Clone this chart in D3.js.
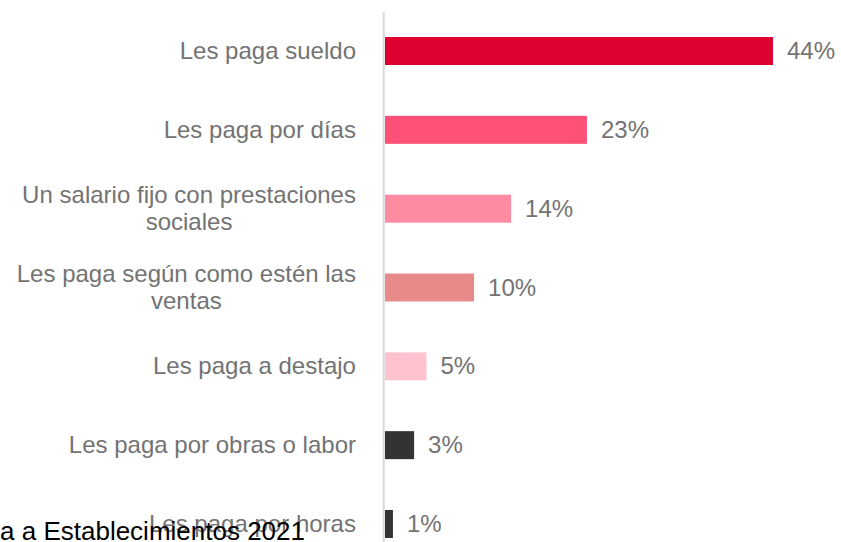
<!DOCTYPE html>
<html>
<head>
<meta charset="utf-8">
<script src="https://cdn.jsdelivr.net/npm/d3@7"></script>
<style>
  html, body { margin: 0; padding: 0; background: #fff; overflow: hidden; }
  svg { display: block; font-family: 'Liberation Sans', Arial, sans-serif; }
</style>
</head>
<body>
<div class="chart"></div>
<script>
const categories = [
  ['Les paga sueldo'],
  ['Les paga por días'],
  ['Un salario fijo con prestaciones', 'sociales'],
  ['Les paga según como estén las', 'ventas'],
  ['Les paga a destajo'],
  ['Les paga por obras o labor'],
  ['Les paga por horas']
]
const values = [44, 22.9, 14.3, 10.1, 4.7, 3.3, 0.9]
const colors = ['#df0032', '#ff5078', '#ff8ba3', '#e98a8a', '#ffc2ce', '#333333', '#333333']
const footnote = 'Fuente: Encuesta a Establecimientos 2021'

;(function init() {
  const width = 841
  const height = 542
  const labelRight = 356
  const textColor = '#737373'
  const fontSize = 23
  const stretch = 1.045

  const keys = categories.map((c) => c.join(' '))

  const xScale = d3.scaleLinear().domain([0, 44]).range([385, 773])

  const yScale = d3
    .scaleBand()
    .domain(keys)
    .range([11.6, 563.4])
    .paddingInner(0.645)
    .paddingOuter(0.3225)

  const svg = d3
    .select('.chart')
    .append('svg')
    .attr('width', width)
    .attr('height', height)

  // barras
  svg
    .selectAll('rect.bar')
    .data(values)
    .enter()
    .append('rect')
    .attr('class', 'bar')
    .attr('x', xScale(0))
    .attr('y', (d, i) => yScale(keys[i]))
    .attr('width', (d) => xScale(d) - xScale(0))
    .attr('height', yScale.bandwidth())
    .attr('fill', (d, i) => colors[i])

  // eje vertical
  svg
    .append('line')
    .attr('x1', 383.7)
    .attr('x2', 383.7)
    .attr('y1', 12)
    .attr('y2', height)
    .attr('stroke', '#d9d9d9')
    .attr('stroke-width', 2)

  // etiquetas de valores
  svg
    .selectAll('text.value')
    .data(values)
    .enter()
    .append('text')
    .attr('class', 'value')
    .attr('transform', (d) => {
      const x = xScale(d) + 14
      return `translate(${x},0) scale(${stretch},1)`
    })
    .attr('y', (d, i) => yScale(keys[i]) + yScale.bandwidth() / 2)
    .attr('dy', '0.35em')
    .style('font-size', fontSize + 'px')
    .attr('fill', textColor)
    .text((d) => d3.format('.0f')(d) + '%')

  // etiquetas de categorias
  const labelGroup = svg
    .append('g')
    .attr('transform', `translate(${labelRight},0) scale(${stretch},1)`)

  const labels = labelGroup
    .selectAll('text.label')
    .data(categories)
    .enter()
    .append('text')
    .attr('class', 'label')
    .style('font-size', fontSize + 'px')
    .attr('fill', textColor)

  labels.each(function (lines, i) {
    const text = d3.select(this)
    const cy = yScale(keys[i]) + yScale.bandwidth() / 2
    const lineHeight = 27
    if (lines.length === 1) {
      text
        .attr('text-anchor', 'end')
        .attr('x', 0)
        .attr('y', cy)
        .attr('dy', '0.35em')
        .text(lines[0])
      return
    }
    const spans = lines.map((l, j) =>
      text
        .append('tspan')
        .attr('y', cy + (j - (lines.length - 1) / 2) * lineHeight)
        .attr('dy', '0.35em')
        .text(l)
    )
    const maxW = d3.max(spans, (s) => s.node().getComputedTextLength())
    text.attr('text-anchor', 'middle')
    spans.forEach((s) => s.attr('x', -maxW / 2))
  })

  // nota al pie
  svg
    .append('text')
    .attr('x', 305)
    .attr('y', 540)
    .attr('text-anchor', 'end')
    .style('font-size', '26px')
    .attr('fill', '#000')
    .text(footnote)
})()
</script>
</body>
</html>
